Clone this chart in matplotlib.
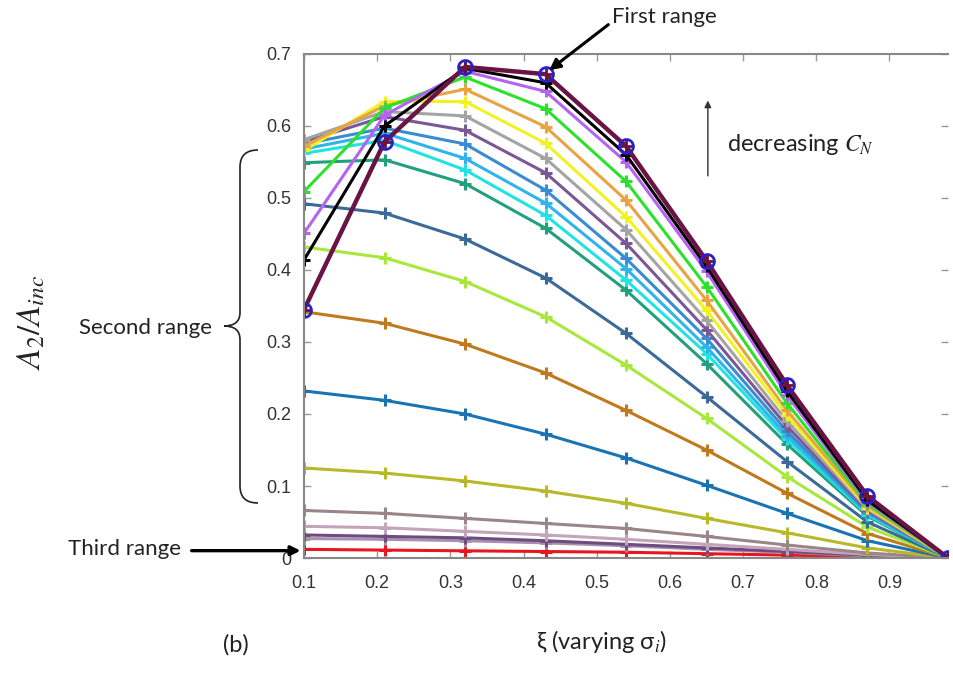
import matplotlib
matplotlib.use("Agg")
import matplotlib.pyplot as plt
from matplotlib.path import Path
from matplotlib.patches import PathPatch, FancyArrowPatch

plt.rcParams['mathtext.fontset'] = 'stix'

xi = [0.1, 0.21, 0.32, 0.43, 0.54, 0.65, 0.76, 0.87, 0.98]

s_maroon = [0.345, 0.578, 0.682, 0.672, 0.572, 0.413, 0.240, 0.086, 0.0]
s_black = [0.414, 0.600, 0.680, 0.660, 0.560, 0.405, 0.232, 0.080, 0.0]
s_violet = [0.451, 0.615, 0.676, 0.648, 0.550, 0.398, 0.226, 0.078, 0.0]
s_green = [0.509, 0.625, 0.668, 0.624, 0.523, 0.377, 0.215, 0.075, 0.0]
s_orange = [0.572, 0.628, 0.651, 0.599, 0.497, 0.358, 0.205, 0.072, 0.0]
s_yellow = [0.566, 0.634, 0.634, 0.576, 0.474, 0.344, 0.198, 0.070, 0.0]
s_gray = [0.581, 0.620, 0.614, 0.555, 0.456, 0.330, 0.190, 0.068, 0.0]
s_purple = [0.578, 0.613, 0.594, 0.535, 0.437, 0.317, 0.183, 0.066, 0.0]
s_blue = [0.575, 0.597, 0.575, 0.511, 0.416, 0.305, 0.176, 0.064, 0.0]
s_ltblue = [0.568, 0.590, 0.555, 0.493, 0.402, 0.293, 0.170, 0.062, 0.0]
s_cyan = [0.562, 0.580, 0.539, 0.476, 0.386, 0.284, 0.165, 0.060, 0.0]
s_teal = [0.549, 0.553, 0.520, 0.458, 0.372, 0.270, 0.158, 0.058, 0.0]
s_steel = [0.492, 0.479, 0.443, 0.389, 0.312, 0.224, 0.134, 0.050, 0.0]
s_lime = [0.432, 0.417, 0.384, 0.335, 0.268, 0.194, 0.113, 0.043, 0.0]
s_brown = [0.342, 0.326, 0.297, 0.257, 0.205, 0.150, 0.090, 0.034, 0.0]
s_blue2 = [0.232, 0.219, 0.200, 0.172, 0.139, 0.101, 0.062, 0.024, 0.0]
s_olive = [0.125, 0.118, 0.107, 0.093, 0.076, 0.055, 0.035, 0.014, 0.0]
s_mauve = [0.066, 0.062, 0.055, 0.048, 0.041, 0.030, 0.018, 0.007, 0.0]
s_pinkgray = [0.044, 0.042, 0.037, 0.032, 0.026, 0.019, 0.012, 0.005, 0.0]
s_dkpurple = [0.032, 0.030, 0.028, 0.024, 0.019, 0.014, 0.009, 0.004, 0.0]
s_ltpurple = [0.027, 0.026, 0.024, 0.021, 0.017, 0.012, 0.008, 0.003, 0.0]
s_red = [0.012, 0.011, 0.010, 0.009, 0.008, 0.006, 0.004, 0.002, 0.0]

series = [
    (s_red, '#e8161e'),
    (s_ltpurple, '#a890b0'),
    (s_dkpurple, '#6e4c80'),
    (s_pinkgray, '#c4a4b8'),
    (s_mauve, '#9a8688'),
    (s_olive, '#b8b82a'),
    (s_blue2, '#1a74b4'),
    (s_brown, '#c07a1e'),
    (s_lime, '#a8e83c'),
    (s_steel, '#3c6a98'),
    (s_teal, '#22a07e'),
    (s_cyan, '#22e2e2'),
    (s_ltblue, '#30b4ea'),
    (s_blue, '#3a8cd0'),
    (s_purple, '#7a5896'),
    (s_gray, '#a4a4a4'),
    (s_yellow, '#f2f222'),
    (s_orange, '#e8a444'),
    (s_green, '#2ee02e'),
    (s_violet, '#b464f0'),
    (s_black, '#000000'),
]

fig = plt.figure(figsize=(9.54, 6.74), dpi=100)
ax = fig.add_axes([0.3187, 0.1721, 0.6750, 0.7478])

for vals, col in series:
    ax.plot(xi, vals, color=col, lw=2.2, marker='+', ms=9, mew=2.2)
ax.plot(xi, s_maroon, color='#6a1444', lw=3.2, marker='+', ms=9, mew=2)
ax.plot(xi, s_maroon, ls='none', marker='o', ms=10, mfc='none', mec='#2a20c8', mew=2)

ax.set_xlim(0.1, 0.98)
ax.set_ylim(0, 0.7)
ax.set_xticks([0.1, 0.2, 0.3, 0.4, 0.5, 0.6, 0.7, 0.8, 0.9])
ax.set_xticklabels(['0.1', '0.2', '0.3', '0.4', '0.5', '0.6', '0.7', '0.8', '0.9'])
ax.set_yticks([0, 0.1, 0.2, 0.3, 0.4, 0.5, 0.6, 0.7])
ax.set_yticklabels(['0', '0.1', '0.2', '0.3', '0.4', '0.5', '0.6', '0.7'])
ax.tick_params(direction='in', length=5, width=1, color='#999999', labelcolor='#333333',
               labelsize=13, top=True, right=True)
ax.tick_params(axis='x', pad=12)
ax.tick_params(axis='y', pad=9)
for t in ax.get_xticklabels() + ax.get_yticklabels():
    t.set_family('Liberation Sans')
for sp in ax.spines.values():
    sp.set_color('#888888')
    sp.set_linewidth(1.5)
ax.spines['right'].set_visible(False)

fig.text(0.032, 0.522, r'$A_2/A_{inc}$', fontsize=24, color='#222222', rotation=90,
         ha='center', va='center')
fig.text(0.630, 0.028, r'ξ (varying σ$_i$)', fontsize=17, ha='center', va='bottom',
         family='Lato', color='#222222')
fig.text(0.247, 0.028, '(b)', fontsize=17, ha='center', va='bottom', family='Lato', color='#222222')

fig.text(0.696, 0.990, 'First range', fontsize=16, ha='center', va='top', family='Lato', color='#222222')
ax.annotate('', xy=(0.432, 0.675), xycoords='data', xytext=(0.64, 0.966), textcoords='figure fraction',
            arrowprops=dict(arrowstyle='-|>', color='black', lw=2.2, mutation_scale=16))

fig.text(0.762, 0.785, r'decreasing $C_N$', fontsize=17, ha='left', va='center', family='Lato', color='#222222')
fig.add_artist(FancyArrowPatch((0.742, 0.735), (0.742, 0.855),
               transform=fig.transFigure, arrowstyle='-|>', color='#333333', lw=1, mutation_scale=10))

fig.text(0.222, 0.513, 'Second range', fontsize=16, ha='right', va='center', family='Lato', color='#222222')
# curly brace
x0 = 240 / 954
xt = 224 / 954
yT = 1 - 150 / 674
yB = 1 - 503 / 674
yM = 1 - 326 / 674
xr = 258 / 954
verts = [(xr, yT), (x0, yT), (x0, yT - 0.025),
         (x0, yM + 0.02), (x0, yM), (xt, yM),
         (x0, yM), (x0, yM - 0.02),
         (x0, yB + 0.025), (x0, yB), (xr, yB)]
codes = [Path.MOVETO, Path.CURVE3, Path.CURVE3,
         Path.LINETO, Path.CURVE3, Path.CURVE3,
         Path.CURVE3, Path.CURVE3,
         Path.LINETO, Path.CURVE3, Path.CURVE3]
fig.add_artist(PathPatch(Path(verts, codes), transform=fig.transFigure, fill=False,
                         edgecolor='#222222', lw=1.2))

fig.text(0.190, 0.186, 'Third range', fontsize=16, ha='right', va='center', family='Lato', color='#222222')
fig.add_artist(FancyArrowPatch((0.198, 0.183), (0.318, 0.183),
               transform=fig.transFigure, arrowstyle='-|>', color='black', lw=2.4, mutation_scale=14))

fig.savefig('out.png', dpi=100)
